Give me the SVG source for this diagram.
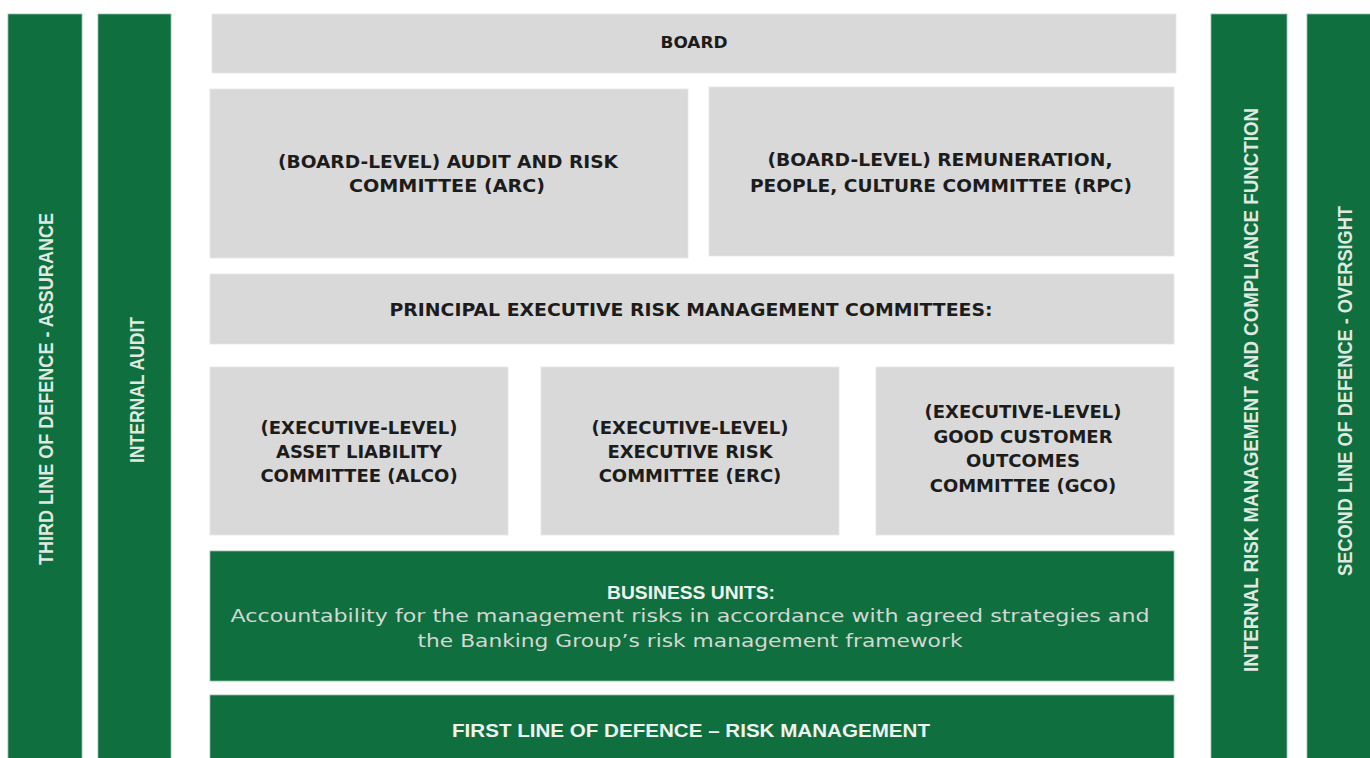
<svg xmlns="http://www.w3.org/2000/svg" width="1370" height="758" viewBox="0 0 1370 758">
  <style>
    .bg { fill: #ffffff; }
    .green { fill: #0f6f3e; stroke: #8fbfa2; stroke-width: 0.8; }
    .grey { fill: #d9d9d9; stroke: #e6e6e6; stroke-width: 0.8; }
    .lbl { font-family: "DejaVu Sans", "Liberation Sans", sans-serif; font-weight: bold; font-size: 18px; fill: #1c1c1c; text-anchor: middle; }
    .cond { font-family: "Liberation Sans", Arial, sans-serif; font-weight: bold; fill: #eef3ef; text-anchor: middle; }
    .vert { font-size: 21px; fill: #dfe9e2; }
    .body { font-family: "DejaVu Sans", "Liberation Sans", sans-serif; font-size: 18.5px; fill: #d3d8d4; text-anchor: middle; }
  </style>
  <rect class="bg" x="0" y="0" width="1370" height="758"/>

  <!-- side columns: lines of defence -->
  <g id="third-line">
    <rect class="green" x="8" y="14" width="74" height="750"/>
    <text class="cond vert" transform="translate(52.5,389) rotate(-90)" textLength="352" lengthAdjust="spacingAndGlyphs">THIRD LINE OF DEFENCE - ASSURANCE</text>
  </g>
  <g id="internal-audit">
    <rect class="green" x="98" y="14" width="73" height="750"/>
    <text class="cond vert" transform="translate(143.5,390) rotate(-90)" textLength="146" lengthAdjust="spacingAndGlyphs">INTERNAL AUDIT</text>
  </g>
  <g id="risk-compliance">
    <rect class="green" x="1211" y="14" width="76" height="750"/>
    <text class="cond vert" transform="translate(1257.5,390) rotate(-90)" textLength="564" lengthAdjust="spacingAndGlyphs">INTERNAL RISK MANAGEMENT AND COMPLIANCE FUNCTION</text>
  </g>
  <g id="second-line">
    <rect class="green" x="1307" y="14" width="70" height="750"/>
    <text class="cond vert" transform="translate(1352,391) rotate(-90)" textLength="370" lengthAdjust="spacingAndGlyphs">SECOND LINE OF DEFENCE - OVERSIGHT</text>
  </g>

  <!-- governance bodies -->
  <g id="board">
    <rect class="grey" x="212" y="14" width="964" height="59"/>
    <text class="lbl" x="694" y="48" style="font-size:15px" textLength="67" lengthAdjust="spacingAndGlyphs">BOARD</text>
  </g>
  <g id="arc">
    <rect class="grey" x="210" y="89" width="478" height="169"/>
    <text class="lbl" x="448" y="168" textLength="340" lengthAdjust="spacingAndGlyphs">(BOARD-LEVEL) AUDIT AND RISK</text>
    <text class="lbl" x="447" y="192" textLength="196" lengthAdjust="spacingAndGlyphs">COMMITTEE (ARC)</text>
  </g>
  <g id="rpc">
    <rect class="grey" x="709" y="87" width="465" height="169"/>
    <text class="lbl" x="940" y="166" textLength="345" lengthAdjust="spacingAndGlyphs">(BOARD-LEVEL) REMUNERATION,</text>
    <text class="lbl" x="941" y="192" textLength="382" lengthAdjust="spacingAndGlyphs">PEOPLE, CULTURE COMMITTEE (RPC)</text>
  </g>
  <g id="principal">
    <rect class="grey" x="210" y="274" width="964" height="70"/>
    <text class="lbl" x="691" y="316" textLength="603" lengthAdjust="spacingAndGlyphs">PRINCIPAL EXECUTIVE RISK MANAGEMENT COMMITTEES:</text>
  </g>
  <g id="alco">
    <rect class="grey" x="210" y="367" width="298" height="168"/>
    <text class="lbl" x="359" y="434">(EXECUTIVE-LEVEL)</text>
    <text class="lbl" x="359" y="458">ASSET LIABILITY</text>
    <text class="lbl" x="359" y="482">COMMITTEE (ALCO)</text>
  </g>
  <g id="erc">
    <rect class="grey" x="541" y="367" width="298" height="168"/>
    <text class="lbl" x="690" y="434">(EXECUTIVE-LEVEL)</text>
    <text class="lbl" x="690" y="458">EXECUTIVE RISK</text>
    <text class="lbl" x="690" y="482">COMMITTEE (ERC)</text>
  </g>
  <g id="gco">
    <rect class="grey" x="876" y="367" width="298" height="168"/>
    <text class="lbl" x="1023" y="418">(EXECUTIVE-LEVEL)</text>
    <text class="lbl" x="1023" y="443">GOOD CUSTOMER</text>
    <text class="lbl" x="1023" y="467">OUTCOMES</text>
    <text class="lbl" x="1023" y="492">COMMITTEE (GCO)</text>
  </g>
  <g id="business-units">
    <rect class="green" x="210" y="551" width="964" height="130"/>
    <text class="cond" x="691" y="599" style="font-size:19px" textLength="168" lengthAdjust="spacingAndGlyphs">BUSINESS UNITS:</text>
    <text class="body" x="690" y="622" textLength="919" lengthAdjust="spacingAndGlyphs">Accountability for the management risks in accordance with agreed strategies and</text>
    <text class="body" x="690" y="647" textLength="545" lengthAdjust="spacingAndGlyphs">the Banking Group’s risk management framework</text>
  </g>
  <g id="first-line">
    <rect class="green" x="210" y="695" width="964" height="70"/>
    <text class="cond" x="691" y="737" style="font-size:18px" textLength="478" lengthAdjust="spacingAndGlyphs">FIRST LINE OF DEFENCE – RISK MANAGEMENT</text>
  </g>

  <g id="connectors"/>
</svg>
